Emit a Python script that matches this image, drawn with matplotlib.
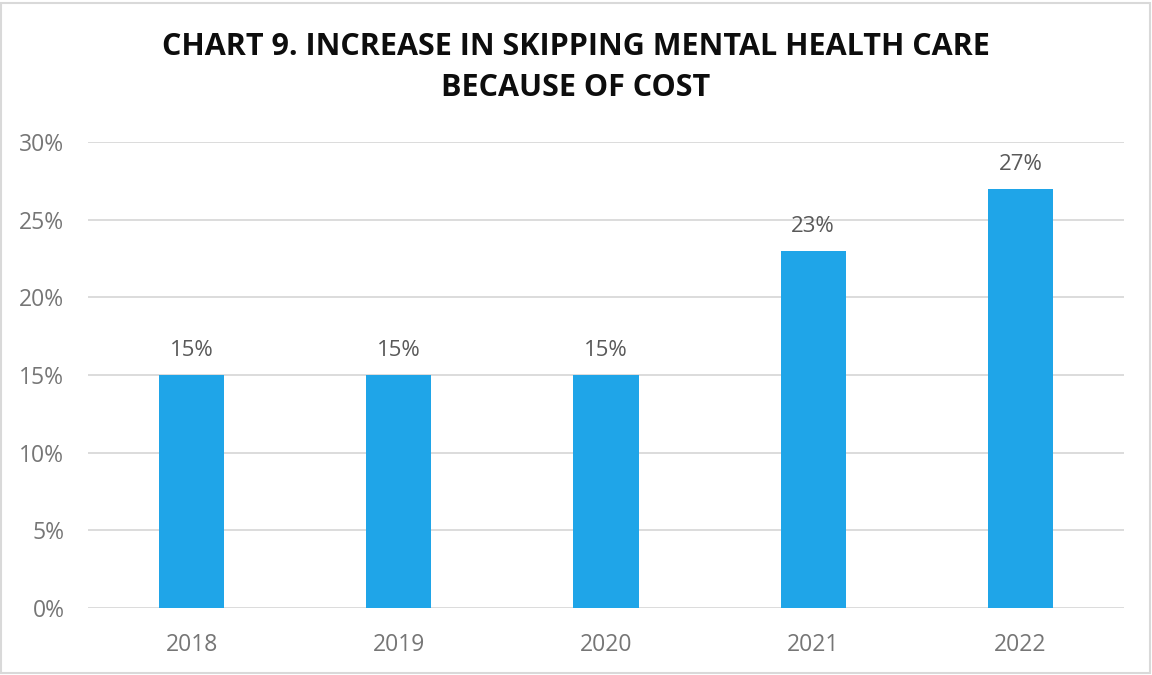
import matplotlib

matplotlib.use("Agg")

import matplotlib.pyplot as plt
from matplotlib.patches import Rectangle
from matplotlib.ticker import FuncFormatter, MultipleLocator

years = ["2018", "2019", "2020", "2021", "2022"]
skipped_pct = [15, 15, 15, 23, 27]

BAR_COLOR = "#1FA5E8"
TICK_GRAY = "#767676"
LABEL_GRAY = "#595959"
GRID_GRAY = "#D9D9D9"

plt.rcParams["font.family"] = ["Open Sans", "DejaVu Sans"]

fig = plt.figure(figsize=(11.52, 6.75), dpi=100)
ax = fig.add_axes([88 / 1152, 1 - 608 / 675, (1124 - 88) / 1152, (608 - 142) / 675])

x = range(len(years))
bars = ax.bar(x, skipped_pct, width=0.315, color=BAR_COLOR, zorder=3)
for rect, val in zip(bars, skipped_pct):
    ax.annotate(f"{val}%", (rect.get_x() + rect.get_width() / 2, val),
                xytext=(0, 10), textcoords="offset points",
                ha="center", va="bottom", fontsize=16, color=LABEL_GRAY)

ax.set_xlim(-0.5, len(years) - 0.5)
ax.set_ylim(0, 30)
ax.yaxis.set_major_locator(MultipleLocator(5))
ax.yaxis.set_major_formatter(FuncFormatter(lambda v, _: f"{v:.0f}%"))
ax.set_xticks(list(x))
ax.set_xticklabels(years)
ax.tick_params(axis="both", length=0, labelsize=16.5, labelcolor=TICK_GRAY)
ax.tick_params(axis="y", pad=17)
ax.tick_params(axis="x", pad=18)
ax.grid(axis="y", color=GRID_GRAY, linewidth=1.3, zorder=0)
for side in ax.spines.values():
    side.set_visible(False)

fig.text(0.5, 1 - 47 / 675, "CHART 9. INCREASE IN SKIPPING MENTAL HEALTH CARE",
         ha="center", va="center", fontsize=22, fontweight="bold", color="#0D0D0D")
fig.text(0.5, 1 - 88 / 675, "BECAUSE OF COST",
         ha="center", va="center", fontsize=22, fontweight="bold", color="#0D0D0D")

# thin frame around the whole chart
fig.patches.append(Rectangle((0.001, 0.003), 0.997, 0.993, transform=fig.transFigure,
                             fill=False, edgecolor="#D9D9D9", linewidth=1.5))

fig.savefig("out.png", dpi=100)
